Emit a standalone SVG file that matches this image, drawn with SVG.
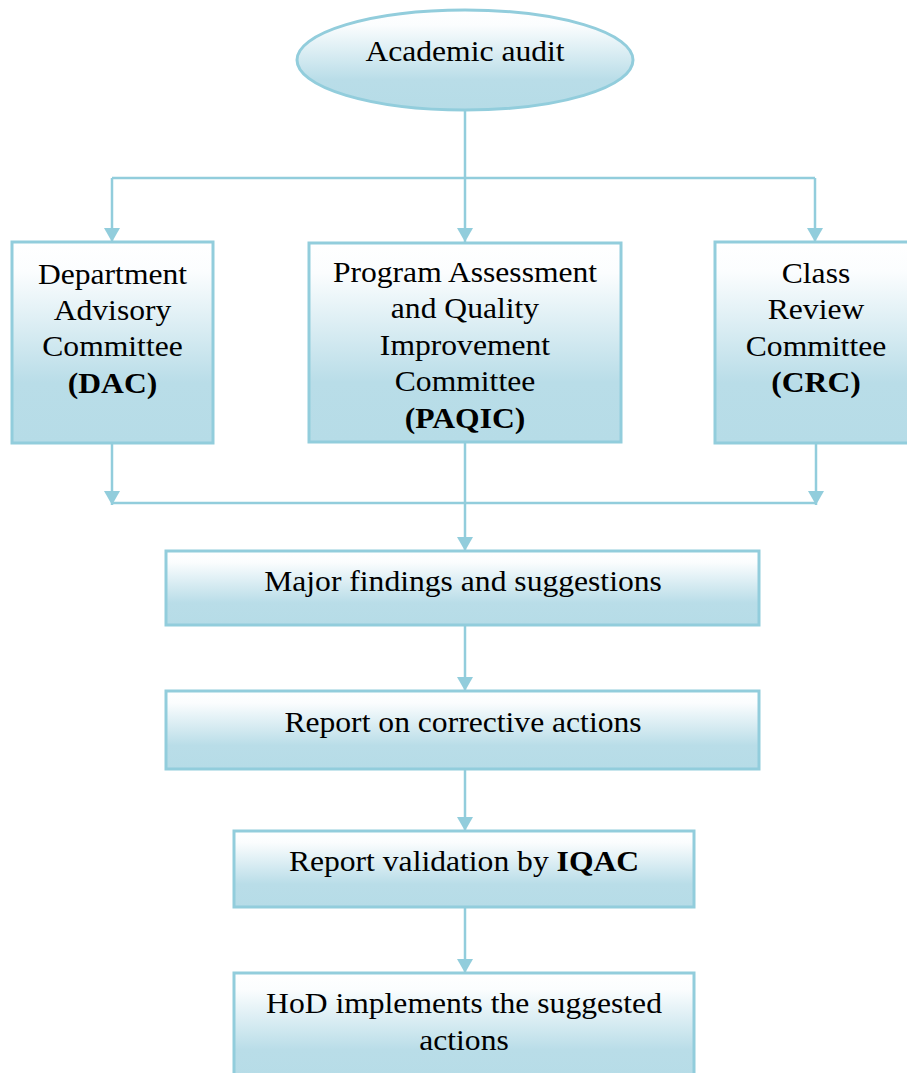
<svg xmlns="http://www.w3.org/2000/svg" width="907" height="1073" viewBox="0 0 907 1073">
<defs>
<linearGradient id="g" x1="0" y1="0" x2="0" y2="1">
<stop offset="0" stop-color="#ffffff"/>
<stop offset="0.15" stop-color="#fbfdfe"/>
<stop offset="0.7" stop-color="#b9dde8"/>
<stop offset="1" stop-color="#b6dce7"/>
</linearGradient>
<marker id="ah" viewBox="0 0 14 16" refX="14" refY="8" markerWidth="14" markerHeight="16" markerUnits="userSpaceOnUse" orient="auto">
<path d="M0,0 L14,8 L0,16 z" fill="#92cddc"/>
</marker>
<style>
.n{fill:url(#g);stroke:#92cddc;stroke-width:3}
.c{fill:none;stroke:#92cddc;stroke-width:2.5}
.t{font-family:"Liberation Serif","Times New Roman",serif;font-size:29px;fill:#000;text-anchor:middle}
.b{font-weight:bold}
</style>
</defs>
<g id="connectors">
<path class="c" d="M465,111 V178 M112,178 H815"/>
<path class="c" d="M112,178 V242" marker-end="url(#ah)"/>
<path class="c" d="M465,178 V242" marker-end="url(#ah)"/>
<path class="c" d="M815,178 V242" marker-end="url(#ah)"/>
<path class="c" d="M112,443 V505" marker-end="url(#ah)"/>
<path class="c" d="M816,443 V505" marker-end="url(#ah)"/>
<path class="c" d="M112,503 H817"/>
<path class="c" d="M465,443 V551" marker-end="url(#ah)"/>
<path class="c" d="M465,625 V691" marker-end="url(#ah)"/>
<path class="c" d="M465,769 V831" marker-end="url(#ah)"/>
<path class="c" d="M465,907 V973" marker-end="url(#ah)"/>
</g>
<g id="academic-audit">
<ellipse class="n" cx="465" cy="60" rx="168" ry="50"/>
<text class="t" transform="translate(465 61) scale(1.09 1)">Academic audit</text>
</g>
<g id="dac">
<rect class="n" x="12" y="242" width="201" height="201"/>
<text class="t" transform="translate(112.5 0) scale(1.09 1)"><tspan x="0" y="284">Department</tspan><tspan x="0" y="320">Advisory</tspan><tspan x="0" y="356">Committee</tspan><tspan x="0" y="393" class="b">(DAC)</tspan></text>
</g>
<g id="paqic">
<rect class="n" x="309" y="243" width="312" height="199"/>
<text class="t" transform="translate(465 0) scale(1.09 1)"><tspan x="0" y="282">Program Assessment</tspan><tspan x="0" y="318.5">and Quality</tspan><tspan x="0" y="355">Improvement</tspan><tspan x="0" y="391.5">Committee</tspan><tspan x="0" y="428" class="b">(PAQIC)</tspan></text>
</g>
<g id="crc">
<rect class="n" x="715" y="242" width="201" height="201"/>
<text class="t" transform="translate(816 0) scale(1.09 1)"><tspan x="0" y="283">Class</tspan><tspan x="0" y="319">Review</tspan><tspan x="0" y="356">Committee</tspan><tspan x="0" y="392" class="b">(CRC)</tspan></text>
</g>
<g id="major-findings">
<rect class="n" x="166" y="551" width="593" height="74"/>
<text class="t" transform="translate(463 591) scale(1.09 1)">Major findings and suggestions</text>
</g>
<g id="report-corrective">
<rect class="n" x="166" y="691" width="593" height="78"/>
<text class="t" transform="translate(463 732) scale(1.09 1)">Report on corrective actions</text>
</g>
<g id="report-validation">
<rect class="n" x="234" y="831" width="460" height="76"/>
<text class="t" transform="translate(464 871) scale(1.09 1)">Report validation by <tspan class="b">IQAC</tspan></text>
</g>
<g id="hod">
<rect class="n" x="234" y="973" width="460" height="110"/>
<text class="t" transform="translate(464 0) scale(1.09 1)"><tspan x="0" y="1013">HoD implements the suggested</tspan><tspan x="0" y="1050">actions</tspan></text>
</g>
</svg>
